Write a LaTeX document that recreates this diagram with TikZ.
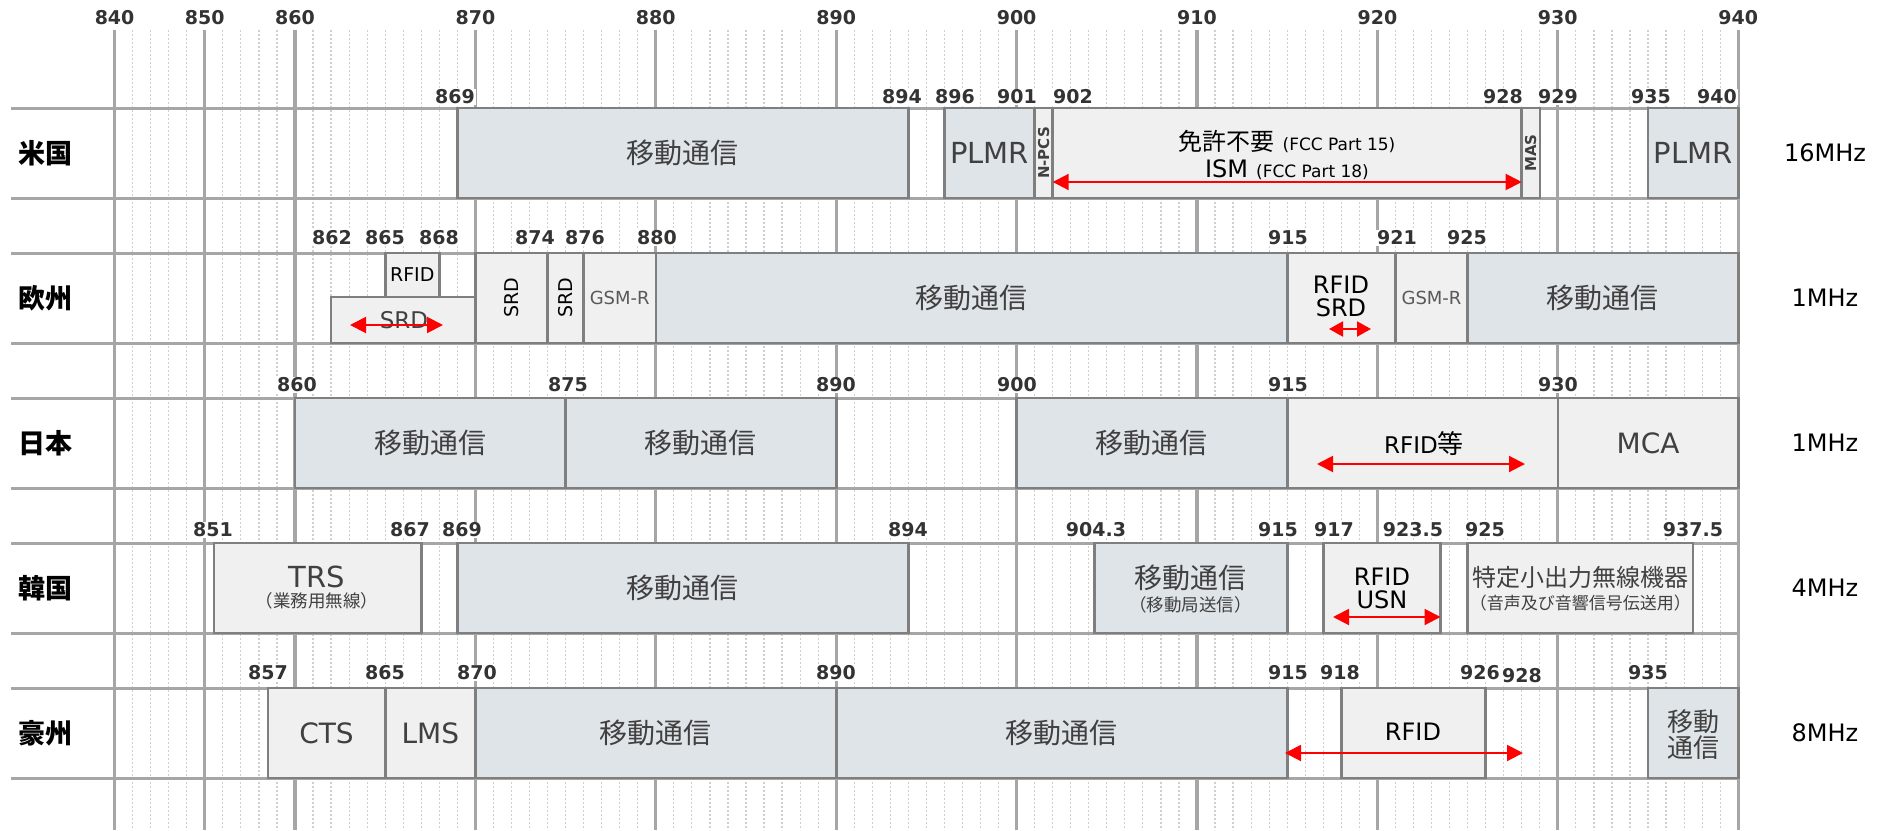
\documentclass[tikz,border=0pt]{standalone}
\usepackage{fontspec}
\setmainfont{DejaVu Sans}
\newfontfamily\jp{Noto Sans CJK JP}
\usetikzlibrary{arrows.meta}
\definecolor{gridc}{HTML}{A6A6A6}
\definecolor{minorc}{HTML}{CFCFCF}
\definecolor{boxline}{HTML}{7F7F7F}
\definecolor{mobfill}{HTML}{DFE4E8}
\definecolor{othfill}{HTML}{F0F0F0}
\definecolor{txtc}{HTML}{404040}
\definecolor{arrc}{HTML}{FF0000}
\newcommand\fs[1]{\fontsize{#1}{#1}\selectfont}
\newcommand\bx[7]{\node[#1, minimum width={(#4-#3)*1pt}, minimum height={(#6-#5)*1pt}] (#2) at ({(#3+#4)/2},{(#5+#6)/2}) {#7};}
\begin{document}
\begin{tikzpicture}[x=1pt,y=-1pt,
  major/.style={draw=gridc, line width=3.2pt},
  minor/.style={draw=minorc, line width=1.2pt, dash pattern=on 2pt off 2pt},
  rowline/.style={draw=gridc, line width=3pt},
  band/.style={draw=boxline, line width=2.6pt, inner sep=0pt, outer sep=0pt, text=txtc},
  mob/.style={band, fill=mobfill},
  oth/.style={band, fill=othfill},
  flab/.style={font=\fs{19}\bfseries, fill=white, inner sep=1pt, text=black!80},
  axlab/.style={font=\fs{19}\bfseries, inner sep=1pt, text=black!80},
  rowlab/.style={font=\jp\fs{27}\bfseries, inner sep=0pt},
  mhz/.style={font=\fs{24}, inner sep=0pt},
  txt/.style={inner sep=0pt, text=txtc},
  btxt/.style={inner sep=0pt, text=black},
  vtxt/.style={inner sep=0pt, rotate=90, font=\fs{15}\bfseries, text=txtc},
  redarr/.style={draw=arrc, line width=2pt, {Triangle[length=16pt,width=16pt]}-{Triangle[length=16pt,width=16pt]}},
  redsmall/.style={draw=arrc, line width=2pt, {Triangle[length=14pt,width=15pt]}-{Triangle[length=14pt,width=15pt]}},
]
\useasboundingbox (0,0) rectangle (1884,830);
% grid
\foreach \k in {1,...,9} \draw[minor] ({114.6+18.04*\k},30) -- ({114.6+18.04*\k},830);
\foreach \m in {1,...,79} \draw[minor] ({295+18.04*\m},30) -- ({295+18.04*\m},830);
\foreach \xx in {114.6,204.8,295,475.4,655.8,836.2,1016.6,1197,1377.4,1557.8,1738.2} \draw[major] (\xx,30) -- (\xx,830);
\foreach \xx/\t in {114.6/840,204.8/850,295/860,475.4/870,655.8/880,836.2/890,1016.6/900,1197/910,1377.4/920,1557.8/930,1738.2/940}
  \node[axlab] (ax\t) at (\xx,18) {\t};
\foreach \yy in {108,198,253,343,398,488,543,633,688,778} \draw[rowline] (11,\yy) -- (1738.2,\yy);
% row labels
\node[rowlab] (rUS) at (45,153) {米国};
\node[rowlab] (rEU) at (45,298) {欧州};
\node[rowlab] (rJP) at (45,443) {日本};
\node[rowlab] (rKR) at (45,588) {韓国};
\node[rowlab] (rAU) at (45,733) {豪州};
\node[mhz] (mUS) at (1825,153) {16MHz};
\node[mhz] (mEU) at (1825,298) {1MHz};
\node[mhz] (mJP) at (1825,443) {1MHz};
\node[mhz] (mKR) at (1825,588) {4MHz};
\node[mhz] (mAU) at (1825,733) {8MHz};
% ---- US
\bx{mob}{us1}{457.4}{908.4}{108}{198}{\jp\fs{28}移動通信}
\bx{mob}{us2}{944.4}{1034.6}{108}{198}{\fs{29}PLMR}
\bx{oth}{us3}{1034.6}{1052.7}{108}{198}{}
\bx{oth}{us4}{1052.7}{1521.7}{108}{198}{}
\bx{oth}{us5}{1521.7}{1539.8}{108}{198}{}
\bx{mob}{us6}{1648}{1738.2}{108}{198}{\fs{29}PLMR}
\node[vtxt] (us3t) at (us3) {N-PCS};
\node[vtxt] (us5t) at (us5) {MAS};
\node[btxt] (us4t1) at (1287,142) {{\jp\fs{24}免許不要}\hspace{8pt}{\fs{17}(FCC Part 15)}};
\node[btxt] (us4t2) at (1287,170) {{\fs{24}ISM}\hspace{8pt}{\fs{17}(FCC Part 18)}};
\coordinate (usA1) at (1052.7,182);
\coordinate (usA2) at (1521.7,182);
\draw[redarr] (usA1) -- (usA2);
\foreach \xx/\t in {455/869,902/894,955/896,1017/901,1073/902,1503/928,1558/929,1651/935,1717/940}
  \node[flab] (lus\t) at (\xx,97) {\t};
% ---- Europe
\bx{oth}{eu1}{385.2}{439.3}{253}{297}{\color{black}\fs{19}RFID}
\bx{oth}{eu2}{331.1}{475.4}{297}{343}{}
\bx{oth}{eu3}{475.4}{547.6}{253}{343}{}
\bx{oth}{eu4}{547.6}{583.6}{253}{343}{}
\bx{oth}{eu5}{583.6}{655.8}{253}{343}{\color{black!65}\fs{18}GSM-R}
\bx{mob}{eu6}{655.8}{1287.2}{253}{343}{\jp\fs{28}移動通信}
\bx{oth}{eu7}{1287.2}{1395.4}{253}{343}{}
\bx{oth}{eu8}{1395.4}{1467.6}{253}{343}{\color{black!65}\fs{18}GSM-R}
\bx{mob}{eu9}{1467.6}{1738.2}{253}{343}{\jp\fs{28}移動通信}
\node[txt, font=\fs{23}] (eu2t) at (404,320) {SRD};
\coordinate (euA1) at (350,325);
\coordinate (euA2) at (443,325);
\draw[redarr] (euA1) -- (euA2);
\node[inner sep=0pt, rotate=90, font=\fs{19}, text=black] (eu3t) at (eu3) {SRD};
\node[inner sep=0pt, rotate=90, font=\fs{19}, text=black] (eu4t) at (eu4) {SRD};
\node[btxt, font=\fs{24}] (eu7t1) at (1341,285) {RFID};
\node[btxt, font=\fs{24}] (eu7t2) at (1341,308) {SRD};
\coordinate (euB1) at (1329,329);
\coordinate (euB2) at (1371,329);
\draw[redsmall] (euB1) -- (euB2);
\foreach \xx/\t in {332/862,385/865,439/868,535/874,585/876,657/880,1288/915,1397/921,1467/925}
  \node[flab] (leu\t) at (\xx,238) {\t};
% ---- Japan
\bx{mob}{jp1}{295}{565.6}{398}{488}{\jp\fs{28}移動通信}
\bx{mob}{jp2}{565.6}{836.2}{398}{488}{\jp\fs{28}移動通信}
\bx{mob}{jp3}{1016.6}{1287.2}{398}{488}{\jp\fs{28}移動通信}
\bx{oth}{jp4}{1287.2}{1557.8}{398}{488}{}
\bx{oth}{jp5}{1557.8}{1738.2}{398}{488}{\fs{28}MCA}
\node[btxt] (jp4t) at (1424,444) {{\fs{23}RFID}{\jp\fs{26}等}};
\coordinate (jpA1) at (1317,464);
\coordinate (jpA2) at (1525,464);
\draw[redarr] (jpA1) -- (jpA2);
\foreach \xx/\t in {297/860,568/875,836/890,1017/900,1288/915,1558/930}
  \node[flab] (ljp\t) at (\xx,385) {\t};
% ---- Korea
\bx{oth}{kr1}{213.8}{421.3}{543}{633}{}
\bx{mob}{kr2}{457.4}{908.4}{543}{633}{\jp\fs{28}移動通信}
\bx{mob}{kr3}{1094.2}{1287.2}{543}{633}{}
\bx{oth}{kr4}{1323.3}{1440.5}{543}{633}{}
\bx{oth}{kr5}{1467.6}{1693.1}{543}{633}{}
\node[txt, font=\fs{29}] (kr1t1) at (317,577) {TRS};
\node[txt, font=\jp\fs{17.5}] (kr1t2) at (317,601) {（業務用無線）};
\node[txt, font=\jp\fs{28}] (kr3t1) at (1190.7,578) {移動通信};
\node[txt, font=\jp\fs{17.5}] (kr3t2) at (1190.7,605) {（移動局送信）};
\node[btxt, font=\fs{24}] (kr4t1) at (1382,577) {RFID};
\node[btxt, font=\fs{24}] (kr4t2) at (1382,600) {USN};
\coordinate (krA1) at (1333,617);
\coordinate (krA2) at (1440.5,617);
\draw[redarr] (krA1) -- (krA2);
\node[txt, font=\jp\fs{24}] (kr5t1) at (1580.4,577) {特定小出力無線機器};
\node[txt, font=\jp\fs{17}] (kr5t2) at (1580.4,603) {（音声及び音響信号伝送用）};
\foreach \xx/\t in {213/851,410/867,462/869,908/894,1096/904.3,1278/915,1334/917,1413/923.5,1485/925,1693/937.5}
  \node[flab] (lkr\t) at (\xx,530) {\t};
% ---- Australia
\bx{oth}{au1}{267.9}{385.2}{688}{778}{\fs{28}CTS}
\bx{oth}{au2}{385.2}{475.4}{688}{778}{\fs{28}LMS}
\bx{mob}{au3}{475.4}{836.2}{688}{778}{\jp\fs{28}移動通信}
\bx{mob}{au4}{836.2}{1287.2}{688}{778}{\jp\fs{28}移動通信}
\bx{oth}{au5}{1341.3}{1485.6}{688}{778}{}
\bx{mob}{au6}{1648}{1738.2}{688}{778}{}
\node[btxt, font=\fs{24}] (au5t) at (1413,732) {RFID};
\node[txt, font=\jp\fs{26}] (au6t1) at (1693,722) {移動};
\node[txt, font=\jp\fs{26}] (au6t2) at (1693,748) {通信};
\coordinate (auA1) at (1285,753);
\coordinate (auA2) at (1523,753);
\draw[redarr] (auA1) -- (auA2);
\foreach \xx/\yy/\t in {268/673/857,385/673/865,477/673/870,836/673/890,1288/673/915,1340/673/918,1480/673/926,1522/676/928,1648/673/935}
  \node[flab] (lau\t) at (\xx,\yy) {\t};
\end{tikzpicture}
\end{document}
